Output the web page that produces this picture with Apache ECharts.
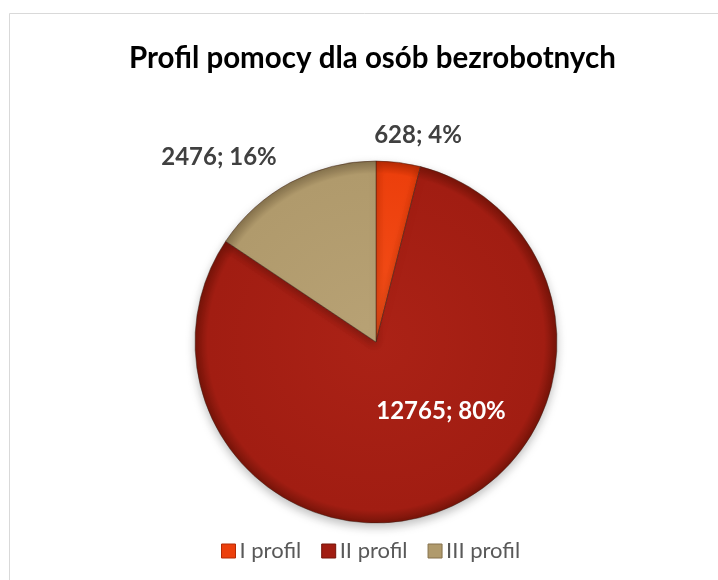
<!DOCTYPE html>
<html>
<head>
<meta charset="utf-8">
<script src="https://cdn.jsdelivr.net/npm/echarts@6/dist/echarts.min.js"></script>
<style>
html,body{margin:0;padding:0;background:#fff;}
#c{width:718px;height:580px;}
</style>
</head>
<body>
<div id="c"></div>
<script>
const categories = ['I profil', 'II profil', 'III profil'];
const values = [628, 12765, 2476];
const percents = [4, 80, 16];
const colors = [
  ['#f5501a', '#ec3f0c', '#b52a04'],
  ['#ab2216', '#a11d12', '#761409'],
  ['#b8a275', '#b09a6c', '#85714c']
];

const CX = 376, CY = 342, R = 181;
const chart = echarts.init(document.getElementById('c'));

function grad(c) {
  return {
    type: 'radial', x: CX, y: CY, r: R, global: true,
    colorStops: [
      { offset: 0, color: c[0] },
      { offset: 0.93, color: c[1] },
      { offset: 1, color: c[2] }
    ]
  };
}

const labelPos = [
  { x: 418, y: 135, color: '#404040' },
  { x: 441, y: 411, color: '#ffffff' },
  { x: 219, y: 157, color: '#404040' }
];

const data = categories.map((name, i) => ({
  name: name,
  value: values[i],
  itemStyle: { color: grad(colors[i]) },
  label: { color: labelPos[i].color }
}));

chart.setOption({
  animation: false,
  backgroundColor: '#ffffff',
  title: {
    text: 'Profil pomocy dla osób bezrobotnych',
    left: 124,
    top: 38,
    textStyle: { fontFamily: 'Lato', fontWeight: 'bold', fontSize: 29.5, color: '#000000' }
  },
  legend: {
    bottom: 13,
    left: 216,
    itemWidth: 14,
    itemHeight: 14,
    itemGap: 20,
    icon: 'rect',
    textStyle: { fontFamily: 'Lato', fontSize: 22, color: '#595959', padding: [0, 0, 0, -1] },
    data: categories.map((n, i) => ({ name: n, itemStyle: { color: colors[i][1], borderColor: colors[i][2], borderWidth: 1 } }))
  },
  graphic: [{
    type: 'rect',
    shape: { x: 9.5, y: 13.5, width: 760, height: 620 },
    style: { fill: 'none', stroke: '#d9d9d9', lineWidth: 1 },
    silent: true
  }],
  series: [{
    type: 'pie',
    center: [CX, CY],
    radius: R,
    startAngle: 90,
    clockwise: true,
    data: data,
    itemStyle: {
      borderColor: 'rgba(60,30,20,0.6)',
      borderWidth: 0.8,
      shadowBlur: 10,
      shadowOffsetY: 4,
      shadowColor: 'rgba(0,0,0,0.25)'
    },
    label: {
      show: true,
      position: 'outside',
      formatter: p => p.value + '; ' + percents[p.dataIndex] + '%',
      fontFamily: 'Lato',
      fontWeight: 'bold',
      fontSize: 24
    },
    labelLine: { show: false },
    labelLayout: function (params) {
      const p = labelPos[params.dataIndex];
      return { x: p.x, y: p.y, align: 'center', verticalAlign: 'middle' };
    },
    emphasis: { disabled: true }
  }]
});
</script>
</body>
</html>
